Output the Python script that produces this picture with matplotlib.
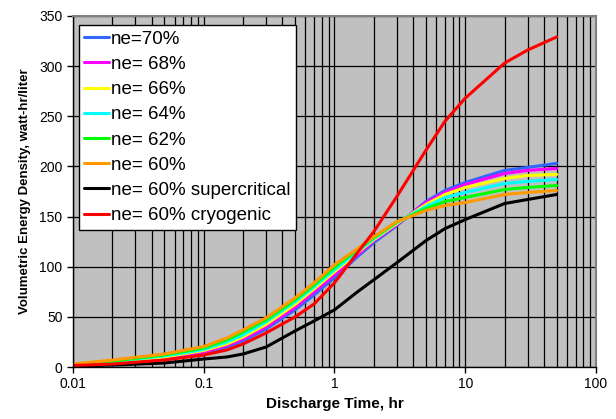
import matplotlib.pyplot as plt
from matplotlib.ticker import LogLocator, FuncFormatter, NullFormatter

plt.rcParams['font.family'] = ['Liberation Sans', 'DejaVu Sans']

# discharge time, hr
hours = [0.01, 0.02, 0.05, 0.1, 0.15, 0.2, 0.3, 0.5, 0.7, 1, 1.5, 2, 3, 5, 7, 10, 20, 30, 50]

# volumetric energy density, watt-hr/liter
ne70 = [2, 4, 8, 14, 20, 26, 38, 57, 72, 89, 110, 124, 141, 165, 176, 184, 196, 199, 203]
ne68 = [2, 4.5, 9, 15, 21.5, 28, 40, 59.5, 75, 92, 112, 126, 142, 164, 174, 182, 193, 196, 198]
ne66 = [2.5, 5, 10, 16.5, 23, 30, 42.5, 62.5, 78, 95, 114, 127, 143, 162, 172, 179, 188, 191, 192]
ne64 = [2.5, 5.5, 11, 17.5, 25, 32, 45, 65, 80, 97, 115, 128, 144, 160, 169, 174, 183, 185, 187]
ne62 = [3, 6, 12, 19, 27, 35, 47, 67, 82, 99.5, 117, 129, 144.5, 158, 165, 169, 177, 179, 181]
ne60 = [3, 7, 13, 20.5, 29, 37, 49, 69, 84, 102, 118, 130, 145, 156, 161, 164, 172, 174, 176]
ne60_super = [1, 2, 4, 8, 10, 13, 20, 36, 46, 57, 75, 87, 104, 126, 138, 147, 163, 167, 172]
ne60_cryo = [1.5, 3, 7, 12, 17, 23, 34, 50, 63, 84, 114, 135, 170, 216, 245, 268, 303, 316, 329]

series = [
    ('ne=70%', ne70, '#3366FF'),
    ('ne= 68%', ne68, '#FF00FF'),
    ('ne= 66%', ne66, '#FFFF00'),
    ('ne= 64%', ne64, '#00FFFF'),
    ('ne= 62%', ne62, '#00FF00'),
    ('ne= 60%', ne60, '#FF9900'),
    ('ne= 60% supercritical', ne60_super, '#000000'),
    ('ne= 60% cryogenic', ne60_cryo, '#FF0000'),
]

fig = plt.figure(figsize=(6.16, 4.19), dpi=100)
ax = fig.add_axes([0.1185, 0.124, 0.849, 0.838])
ax.set_facecolor('#C0C0C0')

for label, vals, color in series:
    ax.plot(hours, vals, color=color, lw=2.2, label=label, solid_capstyle='round')

ax.set_xscale('log')
ax.set_xlim(0.01, 100)
ax.set_ylim(0, 350)
ax.set_yticks(range(0, 351, 50))
ax.xaxis.set_major_locator(LogLocator(base=10, numticks=10))
ax.xaxis.set_minor_locator(LogLocator(base=10, subs=range(2, 10), numticks=100))
ax.xaxis.set_major_formatter(FuncFormatter(lambda v, p: '%g' % v))
ax.xaxis.set_minor_formatter(NullFormatter())

ax.grid(True, which='major', axis='both', color='black', lw=0.9)
ax.grid(True, which='minor', axis='x', color='black', lw=0.9)
ax.set_axisbelow(True)

ax.tick_params(axis='both', which='major', labelsize=10, length=4, width=1, direction='out')
ax.tick_params(axis='x', which='minor', length=0)
for side in ['top', 'right']:
    ax.spines[side].set_color('#808080')
    ax.spines[side].set_linewidth(1.5)
for side in ['left', 'bottom']:
    ax.spines[side].set_linewidth(1)

ax.set_xlabel('Discharge Time, hr', fontsize=11, fontweight='bold', labelpad=4)
ax.set_ylabel('Volumetric Energy Density, watt-hr/liter', fontsize=9.5, fontweight='bold', labelpad=6)

leg = ax.legend(loc='upper left', bbox_to_anchor=(0.0, 0.99), fontsize=13.5,
                handlelength=1.3, handletextpad=0.12, labelspacing=0.43,
                borderpad=0.3, borderaxespad=0.3, fancybox=False, framealpha=1)
leg.get_frame().set_edgecolor('black')
leg.get_frame().set_linewidth(1)
for line in leg.get_lines():
    line.set_linewidth(2.2)

fig.savefig('out.png', dpi=100)
